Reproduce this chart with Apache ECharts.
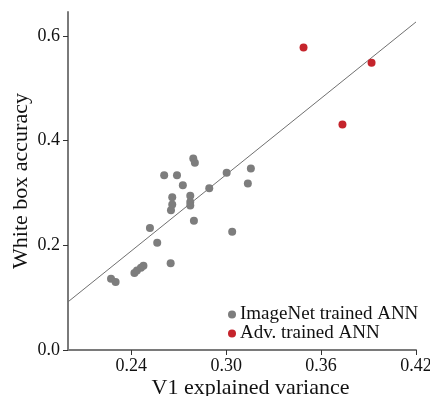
<!DOCTYPE html>
<html>
<head>
<meta charset="utf-8">
<script src="https://cdn.jsdelivr.net/npm/echarts@6.0.0/dist/echarts.min.js"></script>
<style>
  html, body { margin: 0; padding: 0; background: #fff; }
  #chart { width: 430px; height: 396px; }
</style>
</head>
<body>
<div id="chart"></div>
<script>
// V1 explained variance vs. white box accuracy for each network
const imagenetX = [0.2272, 0.2301, 0.2420, 0.2436, 0.2461, 0.2477, 0.2518, 0.2564, 0.2649,
  0.2608, 0.2689, 0.2726, 0.2659, 0.2659, 0.2651, 0.2773, 0.2773, 0.2773, 0.2792, 0.2802,
  0.2796, 0.2893, 0.3003, 0.3038, 0.3137, 0.3156];
const imagenetY = [0.136, 0.130, 0.147, 0.152, 0.157, 0.161, 0.233, 0.205, 0.166,
  0.334, 0.334, 0.315, 0.292, 0.278, 0.267, 0.295, 0.283, 0.276, 0.366, 0.358,
  0.247, 0.309, 0.339, 0.226, 0.318, 0.347];

const advX = [0.3489, 0.3919, 0.3735];
const advY = [0.578, 0.549, 0.431];

// least-squares fit drawn across the full x range
const fitX = [0.20, 0.42];
const fitY = [0.092, 0.627];

const xTicks = [0.24, 0.30, 0.36, 0.42];
const yTicks = [0.0, 0.2, 0.4, 0.6];

const seriesNames = ['ImageNet trained ANN', 'Adv. trained ANN'];
const axisNames = ['V1 explained variance', 'White box accuracy'];

const zip = (xs, ys) => xs.map((x, i) => [x, ys[i]]);
const serif = '"Liberation Serif", "DejaVu Serif", serif';

const chart = echarts.init(document.getElementById('chart'), null, { renderer: 'canvas' });

const axisLineStyle = { show: true, lineStyle: { color: '#7a7a7a', width: 2 } };
const tickStyle = { show: true, length: 5, lineStyle: { color: '#333', width: 1 } };

chart.setOption({
  animation: false,
  backgroundColor: '#fff',
  grid: { left: 68, right: 14, top: 12, bottom: 46, containLabel: false, outerBoundsMode: 'none' },
  xAxis: {
    type: 'value',
    min: 0.2,
    max: 0.42,
    name: axisNames[0],
    nameLocation: 'middle',
    nameGap: 27,
    nameMoveOverlap: false,
    nameTextStyle: { fontFamily: serif, fontSize: 22, color: '#111', padding: [0, 0, 0, 17] },
    axisLine: axisLineStyle,
    axisTick: { ...tickStyle, customValues: xTicks },
    axisLabel: {
      customValues: xTicks,
      margin: 7,
      fontFamily: serif, fontSize: 18, color: '#111',
      formatter: v => v.toFixed(2)
    },
    splitLine: { show: false }
  },
  yAxis: {
    type: 'value',
    min: 0,
    max: 0.646,
    name: axisNames[1],
    nameLocation: 'middle',
    nameGap: 36,
    nameMoveOverlap: false,
    nameTextStyle: { fontFamily: serif, fontSize: 22, color: '#111' },
    axisLine: axisLineStyle,
    axisTick: { ...tickStyle, customValues: yTicks },
    axisLabel: {
      customValues: yTicks,
      margin: 8,
      fontFamily: serif, fontSize: 18, color: '#111',
      formatter: v => v.toFixed(1)
    },
    splitLine: { show: false }
  },
  legend: {
    data: seriesNames,
    orient: 'vertical',
    left: 223,
    top: 300,
    itemWidth: 8,
    itemHeight: 8,
    itemGap: 0,
    icon: 'circle',
    textStyle: { fontFamily: serif, fontSize: 19, color: '#111', padding: [0, 0, 0, -1] }
  },
  series: [
    {
      name: 'fit',
      type: 'line',
      data: zip(fitX, fitY),
      showSymbol: false,
      lineStyle: { color: '#707070', width: 1 },
      silent: true,
      z: 1
    },
    {
      name: seriesNames[0],
      type: 'scatter',
      data: zip(imagenetX, imagenetY),
      symbolSize: 8,
      itemStyle: { color: '#7d7d7d', opacity: 1 },
      z: 2
    },
    {
      name: seriesNames[1],
      type: 'scatter',
      data: zip(advX, advY),
      symbolSize: 8,
      itemStyle: { color: '#c5242c', opacity: 1 },
      z: 3
    }
  ]
});
</script>
</body>
</html>
